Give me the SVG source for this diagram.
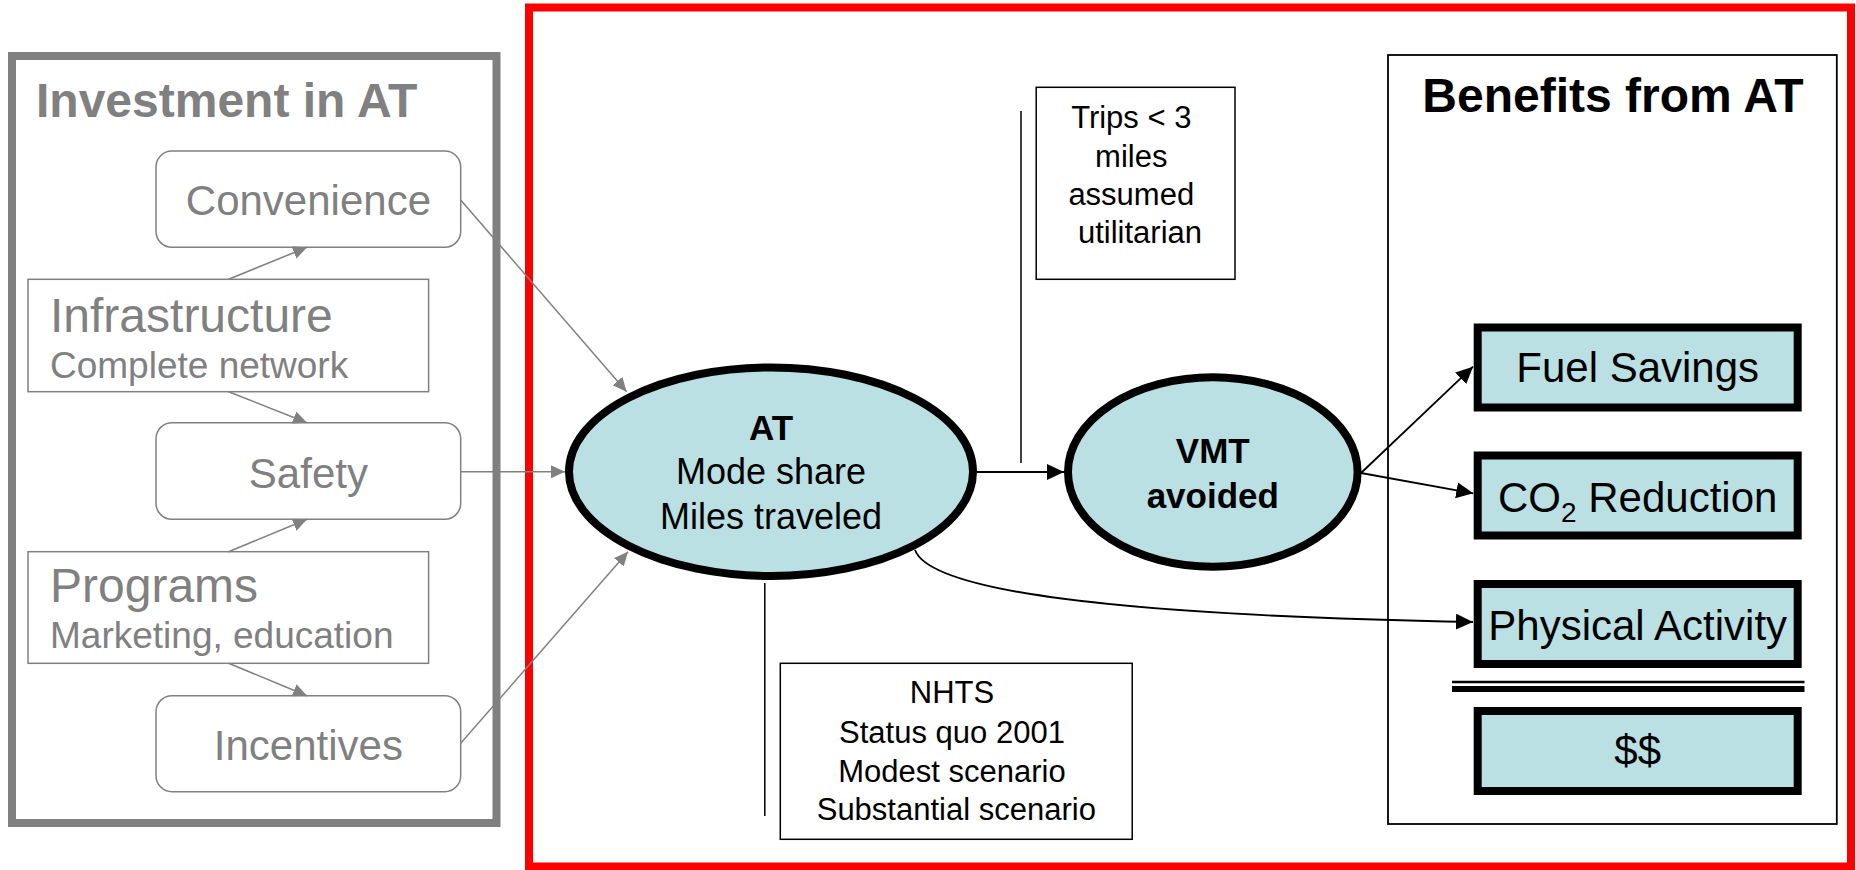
<svg xmlns="http://www.w3.org/2000/svg" width="1856" height="870" viewBox="0 0 1856 870">
<style>
text{font-family:"Liberation Sans",Arial,sans-serif}
.gt{fill:#808080}
.gbox{fill:#fff;stroke:#808080;stroke-width:1.5}
.gl{stroke:#808080;stroke-width:1.5;fill:none;marker-end:url(#ga)}
.bl{stroke:#000;stroke-width:1.8;fill:none;marker-end:url(#ba)}
.ell{fill:#BBE0E3;stroke:#000;stroke-width:8}
.ben{fill:#BBE0E3;stroke:#000;stroke-width:8}
.nb{fill:#fff;stroke:#000;stroke-width:1.5}
.c{text-anchor:middle}
</style>
<defs>
<marker id="ga" markerUnits="userSpaceOnUse" markerWidth="15" markerHeight="14" refX="14" refY="6.5" orient="auto">
<path d="M0,0 L14,6.5 L0,13 Z" fill="#808080"/>
</marker>
<marker id="ba" markerUnits="userSpaceOnUse" markerWidth="18" markerHeight="17" refX="17" refY="8" orient="auto">
<path d="M0,0 L17,8 L0,16 Z" fill="#000"/>
</marker>
</defs>
<rect width="1856" height="870" fill="#fff"/>

<!-- Investment group -->
<g id="investment">
<rect x="12" y="56" width="484.5" height="767" fill="none" stroke="#808080" stroke-width="8"/>
<text x="36" y="117" font-size="48" font-weight="bold" class="gt">Investment in AT</text>
</g>
<g id="convenience">
<rect x="156" y="151" width="304.7" height="96.3" rx="16" ry="16" class="gbox"/>
<text x="308.4" y="215" font-size="42" class="gt c">Convenience</text>
</g>
<g id="infrastructure">
<rect x="28" y="279.3" width="400.6" height="112.4" class="gbox"/>
<text x="50" y="331.7" font-size="48" class="gt">Infrastructure</text>
<text x="50" y="377.7" font-size="37" class="gt">Complete network</text>
</g>
<g id="safety">
<rect x="156" y="422.7" width="304.7" height="96.6" rx="16" ry="16" class="gbox"/>
<text x="308.4" y="488.3" font-size="42" class="gt c">Safety</text>
</g>
<g id="programs">
<rect x="28" y="551.7" width="400.6" height="111.6" class="gbox"/>
<text x="50" y="601.7" font-size="48" class="gt">Programs</text>
<text x="50" y="648.3" font-size="37" class="gt">Marketing, education</text>
</g>
<g id="incentives">
<rect x="156" y="695.7" width="304.7" height="96" rx="16" ry="16" class="gbox"/>
<text x="308.4" y="760" font-size="42" class="gt c">Incentives</text>
</g>

<!-- Red frame -->
<g id="scope">
<rect x="529" y="7.5" width="1322" height="859" fill="none" stroke="#FF0000" stroke-width="8"/>
</g>

<!-- Benefits container -->
<g id="benefits">
<rect x="1388" y="55" width="448.8" height="769" fill="#fff" stroke="#000" stroke-width="1.8"/>
<text x="1613" y="111.7" font-size="48" font-weight="bold" class="c">Benefits from AT</text>
<line x1="1452" y1="682" x2="1804.5" y2="682" stroke="#000" stroke-width="2.7"/>
<line x1="1452" y1="689" x2="1804.5" y2="689" stroke="#000" stroke-width="6"/>
</g>

<!-- Note boxes -->
<g id="trips-note">
<rect x="1036.2" y="87.3" width="198.8" height="192" class="nb"/>
<text font-size="31" class="c">
<tspan x="1135.6" y="128.3">Trips &lt; 3</tspan>
<tspan x="1135.6" y="166.7">miles</tspan>
<tspan x="1135.6" y="205">assumed</tspan>
<tspan x="1140" y="243.3">utilitarian</tspan>
</text>
</g>
<g id="nhts-note">
<rect x="780.3" y="663.3" width="351.9" height="176" class="nb"/>
<text font-size="31" class="c">
<tspan x="956.3" y="703.3">NHTS</tspan>
<tspan x="956.3" y="743.3">Status quo 2001</tspan>
<tspan x="956.3" y="781.7">Modest scenario</tspan>
<tspan x="956.3" y="820">Substantial scenario</tspan>
</text>
</g>

<!-- Connectors -->
<g id="connectors">
<line x1="228.6" y1="279.3" x2="307" y2="247.3" class="gl"/>
<line x1="228.6" y1="391.7" x2="307" y2="422.7" class="gl"/>
<line x1="228.6" y1="551.7" x2="307" y2="519.3" class="gl"/>
<line x1="228.6" y1="663.3" x2="307" y2="695.7" class="gl"/>
<line x1="460.7" y1="200" x2="626.6" y2="391.7" class="gl"/>
<line x1="460.7" y1="471.7" x2="565" y2="471.7" class="gl"/>
<line x1="460.7" y1="743.3" x2="628" y2="551.7" class="gl"/>
<line x1="977" y1="472" x2="1064" y2="472" class="bl"/>
<line x1="1361" y1="473" x2="1473" y2="366.7" class="bl"/>
<line x1="1361" y1="473" x2="1473.3" y2="493.3" class="bl"/>
<path d="M915,550 C930,590 1100,615 1473,622" class="bl"/>
<line x1="1021" y1="111" x2="1021" y2="463" stroke="#000" stroke-width="1.5"/>
<line x1="764.8" y1="583" x2="764.8" y2="816" stroke="#000" stroke-width="1.5"/>
</g>

<!-- Ellipses -->
<g id="at">
<ellipse cx="771" cy="471.7" rx="202" ry="104.3" class="ell"/>
<text x="771" y="440" font-size="35" font-weight="bold" class="c">AT</text>
<text x="771" y="484" font-size="36" class="c">Mode share</text>
<text x="771" y="529" font-size="36" class="c">Miles traveled</text>
</g>
<g id="vmt">
<ellipse cx="1212.8" cy="472" rx="144.8" ry="94.7" class="ell"/>
<text x="1212.8" y="463.3" font-size="35" font-weight="bold" class="c">VMT</text>
<text x="1212.8" y="508.3" font-size="35" font-weight="bold" class="c">avoided</text>
</g>

<!-- Benefit boxes -->
<g id="fuel">
<rect x="1477.7" y="327.5" width="320" height="80" class="ben"/>
<text x="1637.7" y="381.7" font-size="42" class="c">Fuel Savings</text>
</g>
<g id="co2">
<rect x="1477.7" y="455.5" width="320" height="80" class="ben"/>
<text x="1637.7" y="511.7" font-size="42" class="c">CO<tspan font-size="28" dy="10">2</tspan><tspan dy="-10"> Reduction</tspan></text>
</g>
<g id="physical">
<rect x="1477.7" y="584" width="320" height="80" class="ben"/>
<text x="1637.7" y="640" font-size="42" class="c">Physical Activity</text>
</g>
<g id="money">
<rect x="1477.7" y="711" width="320" height="80" class="ben"/>
<text x="1637.7" y="765" font-size="42" class="c">$$</text>
</g>
</svg>
